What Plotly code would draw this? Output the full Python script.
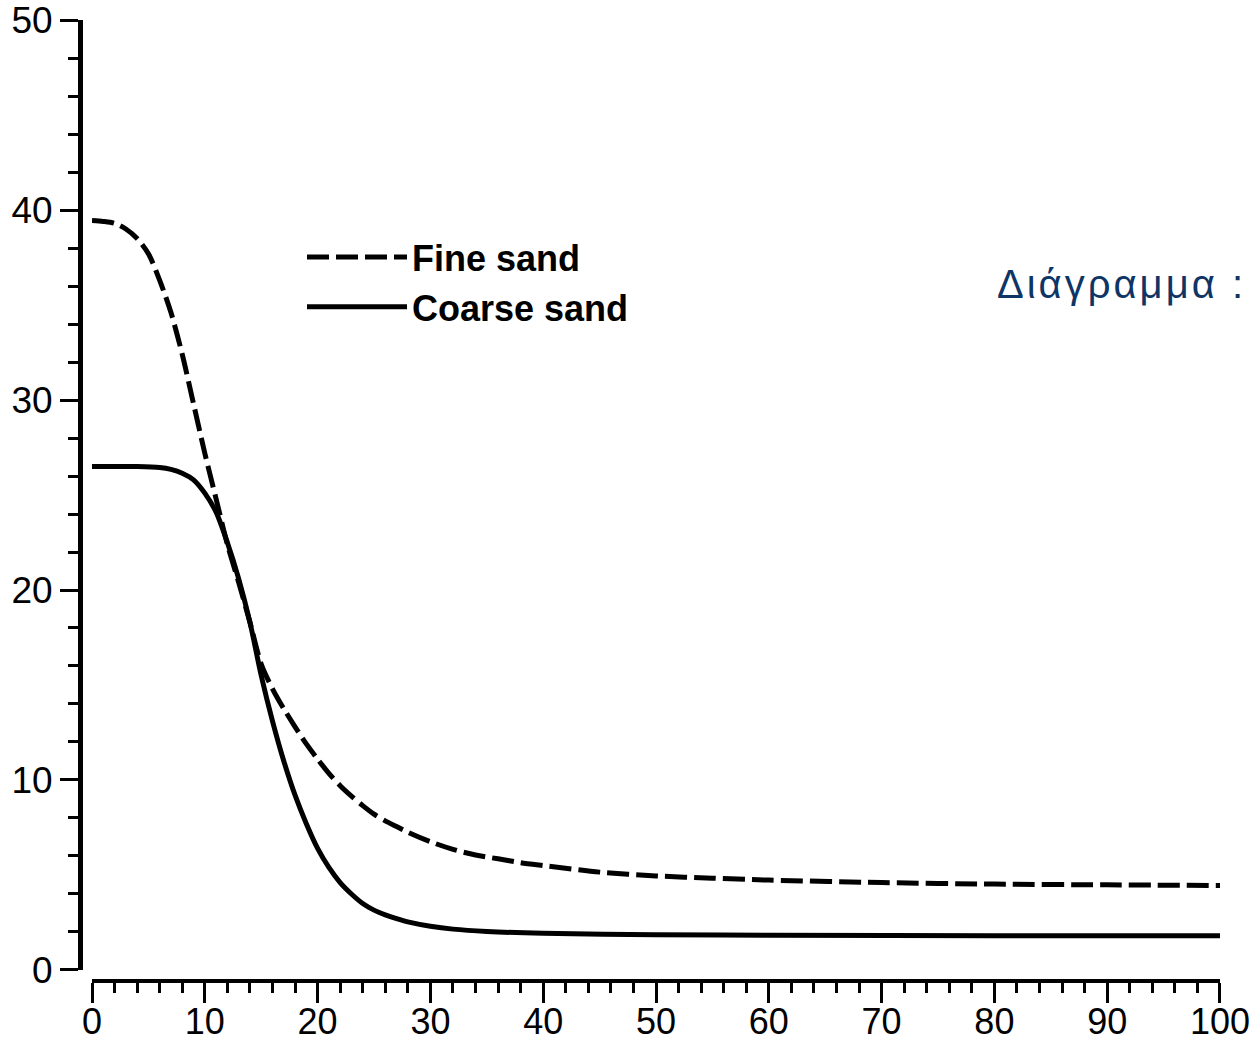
import plotly.graph_objects as go

# ---- data ----
x_fine = [0, 1, 2, 3, 4, 5, 6, 7, 8, 9, 10, 11, 12, 13, 14, 15, 16, 17, 18, 19, 20,
          21, 22, 23, 24, 25, 26, 27, 28, 30, 32, 34, 36, 38, 40, 45, 50, 55, 60, 70,
          80, 90, 100]
y_fine = [39.45, 39.4, 39.3, 39.0, 38.5, 37.7, 36.3, 34.6, 32.4, 29.8, 27.2, 24.8,
          22.4, 20.4, 18.3, 16.1, 14.8, 13.75, 12.8, 11.9, 11.1, 10.35, 9.7, 9.15,
          8.65, 8.2, 7.85, 7.55, 7.25, 6.75, 6.35, 6.05, 5.85, 5.65, 5.5, 5.15, 4.95,
          4.83, 4.73, 4.6, 4.52, 4.48, 4.45]

x_coarse = [0, 2, 4, 6, 7, 8, 9, 10, 11, 12, 13, 14, 15, 16, 17, 18, 19, 20, 21, 22,
            23, 24, 25, 26, 27, 28, 30, 32, 35, 40, 50, 60, 80, 100]
y_coarse = [26.5, 26.5, 26.5, 26.45, 26.35, 26.15, 25.8, 25.1, 24.1, 22.5, 20.6,
            18.3, 15.5, 13.1, 11.0, 9.2, 7.7, 6.4, 5.4, 4.6, 4.0, 3.5, 3.15, 2.9,
            2.7, 2.53, 2.3, 2.15, 2.03, 1.93, 1.86, 1.83, 1.8, 1.8]

series_names = ["Fine sand", "Coarse sand"]
x_ticks = [0, 10, 20, 30, 40, 50, 60, 70, 80, 90, 100]
y_ticks = [0, 10, 20, 30, 40, 50]
side_text = "Διάγραμμα :"

# ---- layout geometry (pixels of the 1254x1043 page) ----
W, H = 1254, 1043
x0_px, x100_px = 92, 1220
y0_px, y50_px = 970, 20
yaxis_x_px = 80
xaxis_y_px = 981

FONT = "Liberation Sans, Arial, sans-serif"

fig = go.Figure()
fig.add_trace(go.Scatter(
    x=x_fine, y=y_fine, name=series_names[0], mode="lines",
    line=dict(color="black", width=5, dash="22px,7px", shape="spline", smoothing=0.8),
))
fig.add_trace(go.Scatter(
    x=x_coarse, y=y_coarse, name=series_names[1], mode="lines",
    line=dict(color="black", width=5, shape="spline", smoothing=0.8),
))

axis_common = dict(
    showgrid=False, zeroline=False, showline=True, linecolor="black",
    ticks="outside", tickcolor="black", tickwidth=3,
    automargin=False, anchor="free", ticklabeloverflow="allow",
)

fig.update_layout(
    template="none",
    width=W, height=H,
    margin=dict(l=0, r=0, t=0, b=0, pad=0),
    paper_bgcolor="white", plot_bgcolor="white",
    xaxis=dict(
        axis_common,
        domain=[x0_px / W, x100_px / W],
        range=[-0.001, 100.001],
        tickvals=x_ticks, ticktext=[str(v) for v in x_ticks],
        tickfont=dict(family=FONT, size=36, color="black"),
        linewidth=4, ticklen=20, ticklabelstandoff=-12,
        minor=dict(dtick=2, tick0=0, ticks="outside", ticklen=10, tickwidth=3,
                   tickcolor="black", showgrid=False),
        position=(H - xaxis_y_px) / H,
    ),
    yaxis=dict(
        axis_common,
        domain=[(H - y0_px) / H, (H - y50_px) / H],
        range=[-0.001, 50.001],
        tickvals=y_ticks, ticktext=[str(v) for v in y_ticks],
        tickfont=dict(family=FONT, size=37, color="black"),
        linewidth=5, ticklen=18,
        minor=dict(dtick=2, tick0=0, ticks="outside", ticklen=10, tickwidth=3,
                   tickcolor="black", showgrid=False),
        position=yaxis_x_px / W,
    ),
    showlegend=True,
    legend=dict(
        x=302 / W, y=1 - 227 / H, xanchor="left", yanchor="top",
        xref="paper", yref="paper",
        bgcolor="rgba(0,0,0,0)", borderwidth=0,
        font=dict(family=FONT, size=36, color="black", weight="bold"),
        itemwidth=100, tracegroupgap=0,
    ),
    annotations=[dict(
        text='<span style="letter-spacing:3px">' + side_text + '</span>',
        xref="paper", yref="paper",
        x=995 / W, y=1 - 284 / H, xanchor="left", yanchor="middle",
        showarrow=False,
        font=dict(family=FONT, size=40, color="#0e3566"),
    )],
)

fig.write_html("out.html")
